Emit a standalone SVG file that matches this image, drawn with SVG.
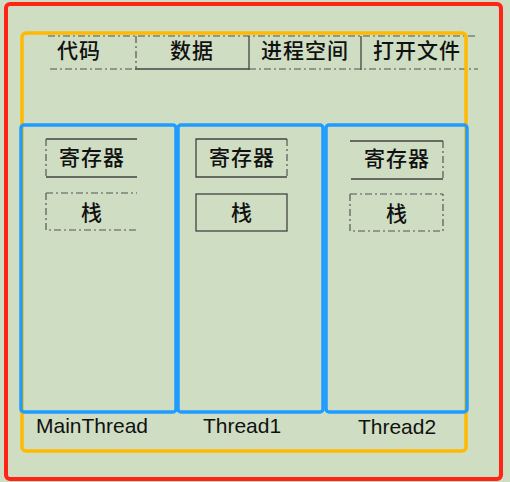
<svg xmlns="http://www.w3.org/2000/svg" width="510" height="482" viewBox="0 0 510 482">
<style>
.cjk{font-family:"Noto Sans CJK SC","Noto Sans",sans-serif;font-size:21px;font-weight:500;fill:#111;text-anchor:middle;letter-spacing:1px}
.lat{font-family:"Liberation Sans",Arial,sans-serif;font-size:21px;fill:#111;text-anchor:middle}
.sol{fill:none;stroke:#444;stroke-width:1.3}
.dsh{fill:none;stroke:#555;stroke-width:1.2;stroke-dasharray:7 3 2 3}
.red{fill:none;stroke:#ff2416;stroke-width:4}
.org{fill:none;stroke:#ffb900;stroke-width:3.5}
.blu{fill:none;stroke:#1f9cff;stroke-width:3.5}
</style>
<rect x="0" y="0" width="510" height="482" fill="#cfddc3"/>
<g id="process">
<rect class="red" x="6" y="4" width="495" height="475" rx="4"/>
</g>
<g id="shared">
<line class="dsh" x1="48" y1="36" x2="476" y2="36"/>
<line class="dsh" x1="50" y1="69" x2="135" y2="69"/>
<line class="sol" x1="135" y1="69" x2="249" y2="69"/>
<line class="dsh" x1="249" y1="69" x2="478" y2="69"/>
<line class="dsh" x1="136" y1="36" x2="136" y2="69"/>
<line class="sol" x1="249" y1="36" x2="249" y2="70"/>
<line class="sol" x1="361" y1="36" x2="361" y2="70"/>
<text class="cjk" x="79" y="58">代码</text>
<text class="cjk" x="192" y="58">数据</text>
<text class="cjk" x="305" y="58">进程空间</text>
<text class="cjk" x="417" y="58">打开文件</text>
</g>
<g id="process-frame">
<rect class="org" x="22" y="33" width="444" height="418" rx="4"/>
</g>
<g id="main-thread">
<rect class="blu" x="21" y="125" width="155" height="287" rx="3"/>
<path class="sol" d="M46 139H137M46 177H137"/>
<path class="dsh" d="M46 139V177"/>
<text class="cjk" x="92" y="165">寄存器</text>
<path class="dsh" d="M46 193H137M46 193V230H137"/>
<text class="cjk" x="92" y="220">栈</text>
<text class="lat" x="92" y="433">MainThread</text>
</g>
<g id="thread1">
<rect class="blu" x="178" y="125" width="145" height="287" rx="3"/>
<path class="sol" d="M287 139H196V177H287"/>
<path class="dsh" d="M287 139V177"/>
<text class="cjk" x="242" y="165">寄存器</text>
<rect class="sol" x="196" y="194" width="91" height="37"/>
<text class="cjk" x="242" y="220">栈</text>
<text class="lat" x="242" y="433">Thread1</text>
</g>
<g id="thread2">
<rect class="blu" x="326" y="125" width="141" height="287" rx="3"/>
<path class="sol" d="M350 141H443M351 179H443"/>
<path class="dsh" d="M443 141V179"/>
<text class="cjk" x="397" y="166">寄存器</text>
<path class="dsh" d="M350 194H443M350 194V231H443V194"/>
<text class="cjk" x="397" y="221">栈</text>
<text class="lat" x="397" y="434">Thread2</text>
</g>
</svg>
